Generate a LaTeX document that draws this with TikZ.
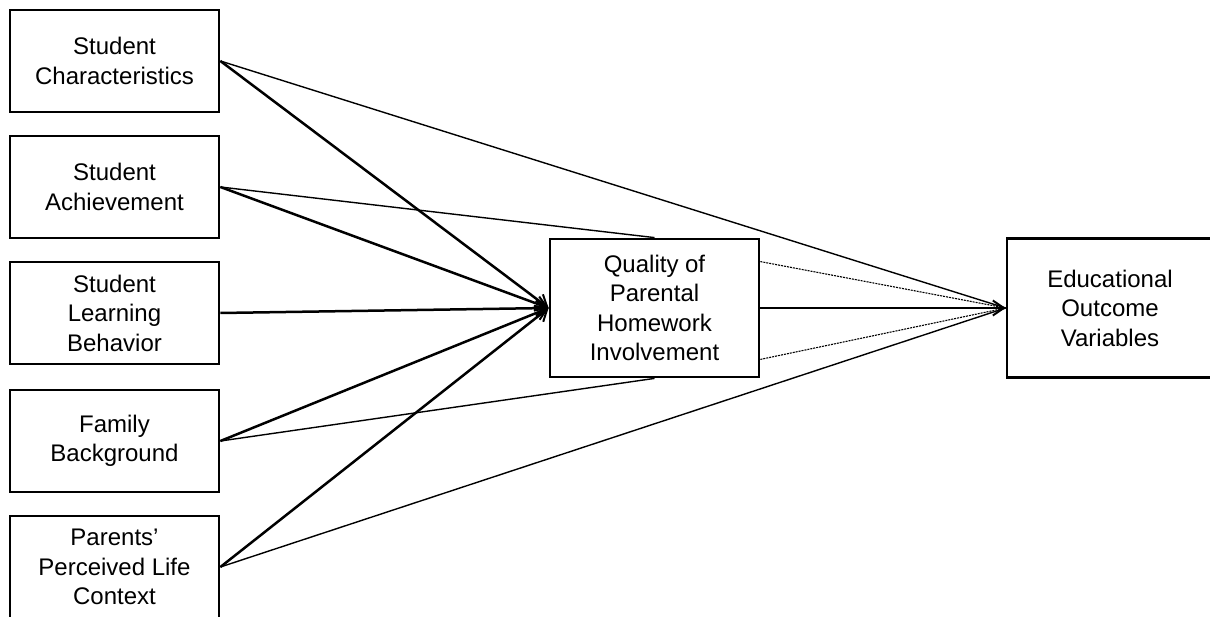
\documentclass[tikz,border=0pt]{standalone}
\usepackage{fontspec}
\setmainfont{Liberation Sans}
\usetikzlibrary{arrows.meta,calc}
\begin{document}
\begin{tikzpicture}[x=1pt,y=1pt,
  box/.style={draw, fill=white, line width=2.8pt, rectangle, align=center,
    inner sep=0pt, font=\fontsize{24}{29.5}\selectfont},
  srcbox/.style={box, minimum width=209pt, minimum height=102pt},
  tip/.style={-{Straight Barb[length=11pt,width=15pt,line width=2pt]}},
  strong/.style={line width=2.5pt, tip},
  weak/.style={line width=1.4pt},
  faint/.style={line width=1.1pt, dash pattern=on 2pt off 1pt}]
\useasboundingbox (0,0) rectangle (1210,-617);
\begin{scope}
\clip (0,0) rectangle (1210,-617);

% predictor boxes on the left
\node[srcbox] (chr) at (114.5,-61) {Student\\Characteristics};
\node[srcbox] (ach) at (114.5,-187) {Student\\Achievement};
\node[srcbox] (lrn) at (114.5,-313) {Student\\Learning\\Behavior};
\node[srcbox] (fam) at (114.5,-441) {Family\\Background};
\node[srcbox] (ctx) at (114.5,-567) {Parents’\\Perceived Life\\Context};

% mediator and outcome
\node[box, minimum width=209pt, minimum height=138pt] (qual) at (654.5,-308)
  {Quality of\\Parental\\Homework\\Involvement};
\node[box, minimum width=206pt, minimum height=139pt] (out) at (1110,-308)
  {Educational\\Outcome\\Variables};

\coordinate (qin) at (qual.west);
\coordinate (oin) at (out.west);
\coordinate (qhi) at ($(qual.north east)+(0,-24)$);
\coordinate (qlo) at ($(qual.south east)+(0,19)$);

% direct paths to the outcome
\draw[weak] (chr.east) -- (oin);
\draw[weak] (ctx.east) -- (oin);
\draw[weak] (ach.east) -- (qual.north);
\draw[weak] (fam.east) -- (qual.south);
\draw[faint] (qhi) -- (oin);
\draw[faint] (qlo) -- (oin);

% paths into the mediator
\draw[strong] (chr.east) -- (qin);
\draw[strong] (ach.east) -- (qin);
\draw[strong] (lrn.east) -- (qin);
\draw[strong] (fam.east) -- (qin);
\draw[strong] (ctx.east) -- (qin);
\draw[strong] (qual.east) -- (oin);
\end{scope}
\end{tikzpicture}
\end{document}
